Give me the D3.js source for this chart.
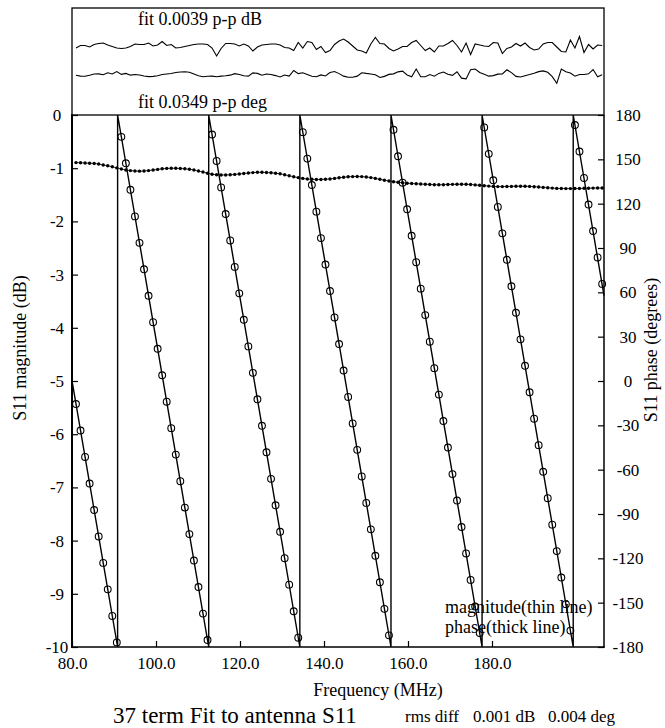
<!DOCTYPE html>
<html>
<head>
<meta charset="utf-8">
<script src="https://cdn.jsdelivr.net/npm/d3@7"></script>
<style>
  body { margin: 0; background: #fff; }
  #s11Fit text { font-family: "Liberation Serif", "Times New Roman", serif; fill: #000; }
</style>
</head>
<body>
<div id="s11Fit"></div>
<script>
// Dados lidos do gráfico //
// grade de frequências das amostras (MHz)
const freqInicio = 80.95
const freqPasso = 1.08

// magnitude medida (dB), um valor por amostra
const magnitude = [
  -0.895,-0.898,-0.902,-0.906,-0.912,-0.921,-0.940,-0.955,-0.974,-0.994,
  -1.015,-1.034,-1.045,-1.053,-1.055,-1.053,-1.045,-1.034,-1.023,-1.011,
  -1.004,-1.002,-1.002,-1.006,-1.011,-1.021,-1.034,-1.053,-1.071,-1.094,
  -1.113,-1.124,-1.128,-1.128,-1.124,-1.117,-1.109,-1.100,-1.090,-1.083,
  -1.077,-1.077,-1.081,-1.086,-1.094,-1.105,-1.124,-1.143,-1.162,-1.177,
  -1.192,-1.203,-1.209,-1.211,-1.211,-1.207,-1.203,-1.192,-1.180,-1.169,
  -1.162,-1.158,-1.156,-1.158,-1.165,-1.177,-1.192,-1.209,-1.226,-1.241,
  -1.254,-1.265,-1.274,-1.282,-1.288,-1.293,-1.297,-1.301,-1.306,-1.310,
  -1.312,-1.310,-1.306,-1.304,-1.301,-1.301,-1.303,-1.306,-1.314,-1.321,
  -1.329,-1.336,-1.342,-1.346,-1.346,-1.344,-1.342,-1.338,-1.338,-1.340,
  -1.342,-1.348,-1.353,-1.361,-1.368,-1.374,-1.380,-1.382,-1.383,-1.383,
  -1.382,-1.382,-1.378,-1.376,-1.374,-1.372,-1.372
]

// fase medida (graus), um valor por amostra
const fase = [
  -15.6,-33.5,-51.4,-69.4,-87.3,-105.2,-123.1,-141.0,-159.0,-176.9,
  165.2,147.3,129.4,111.4,93.5,75.6,57.7,39.8,21.8,3.9,
  -14.0,-31.9,-49.8,-67.8,-85.7,-103.6,-121.5,-139.4,-157.4,-175.3,
  166.8,148.9,131.0,113.0,95.1,77.2,59.3,41.4,23.4,5.5,
  -12.4,-30.3,-48.2,-66.2,-84.1,-102.0,-119.9,-137.8,-155.8,-173.7,
  168.4,150.5,132.6,114.6,96.7,78.8,60.9,43.0,25.0,7.1,
  -10.8,-28.7,-46.6,-64.6,-82.5,-100.4,-118.3,-136.2,-154.2,-172.1,
  170.0,152.1,134.2,116.2,98.3,80.4,62.5,44.6,26.6,8.7,
  -9.2,-27.1,-45.0,-63.0,-80.9,-98.8,-116.7,-134.6,-152.6,-170.5,
  171.6,153.7,135.8,117.8,99.9,82.0,64.1,46.2,28.2,10.3,
  -7.6,-25.5,-43.4,-61.4,-79.3,-97.2,-115.1,-133.0,-151.0,-168.9,
  173.2,155.3,137.4,119.4,101.5,83.6,65.7
]

// vértices da curva ajustada de fase [MHz, graus]
const faseAjuste = [
  [80, 0.2], [90.86, -180], [90.86, 180], [112.55, -180], [112.55, 180],
  [134.25, -180], [134.25, 180], [155.95, -180], [155.95, 180],
  [177.64, -180], [177.64, 180], [199.34, -180], [199.34, 180], [206.67, 57.8]
]

// resíduo do ajuste em magnitude (0.001 dB)
const residuoDb = [
  -0.4,0.1,0.1,-0.2,0.3,0.5,0.6,0.2,-0.1,-0.4,
  -0.5,-0.4,-0.1,0.4,0.3,0.3,0.6,0,0.2,0.9,
  0.1,0.3,-0.4,-0.3,-0.1,0.1,0.3,0.4,0.4,0.3,
  -0.4,-2.0,-0.5,0.5,0.5,0.4,0,0.4,0,-1.0,
  -0.2,0.2,0.3,0.4,0.4,0.2,-0.3,-0.4,-0.9,0.7,
  -0.4,0.9,0.7,-0.7,-0.1,-1.3,-0.9,0.3,1.0,1.4,
  0.8,0,-0.8,-1.0,-1.4,0.4,1.7,0.5,0.4,-0.5,
  -1.0,-0.6,-0.1,-0.1,0.7,1.1,0.1,-0.9,-0.4,-1.2,
  0,0,0.5,1.1,0.1,-1.2,0.6,-1.7,0.4,0.2,
  0,-0.1,0.7,0.6,-1.5,-0.5,-0.2,0.5,0,0.6,
  -0.3,-0.8,-0.6,0.4,0.7,0.7,-0.2,-1.1,-1.2,1.2,
  -0.4,1.9,-1.3,0.3,-0.6,0.2,0.1
]

// resíduo do ajuste em fase (0.001 graus)
const residuoGraus = [
  -1.4,-3,-3.2,-1.4,1,1.2,-0.4,3.2,1,5.4,
  0.2,2,-1.2,0,-1,-2.8,-3.8,-3.4,-2.2,0,
  1,1.8,3.6,4.6,5,4,0.8,-2.2,-4,-3.2,
  -3,-4,-3,-2.2,-1.2,1.6,0,-2.4,-3,3,
  2,-1.2,0.8,0,-2,-4.6,-1,-3,7.4,1.6,
  3.2,0,-3.2,-4,-0.8,-2.6,3.6,5.4,1.6,-3,
  -5,-5,-3,3.2,2,1,-0.6,-5.4,-3.4,0.2,
  1.2,4.8,6,-0.8,-4,10,-4,-4,0,-3,
  2,4.6,0.6,-1.6,5,-6.6,-8,8.6,10,3.6,
  0.4,-3,-2,0.6,1,8.6,3.4,-3.4,-4.6,-2.2,
  0,2.4,5.2,6.6,4,-4,-16,9.8,5,2.6,
  -3,0,0,1.2,9,-4,-0.4
]

// Rótulos dos eixos //
const ticksFreq = [80, 100, 120, 140, 160, 180]
const ticksMag = [0, -1, -2, -3, -4, -5, -6, -7, -8, -9, -10]
const ticksFase = [180, 150, 120, 90, 60, 30, 0, -30, -60, -90, -120, -150, -180]

var s11Fit = {
  // Renderiza o gráfico //
  render: function(node){
    const width = 665
    const height = 728
    const serif = '"Liberation Serif", "Times New Roman", serif'

    const svg = d3.select(node)
      .append("svg")
      .attr("width", width)
      .attr("height", height)
      .attr("viewBox", "0 0 " + width + " " + height)

    const freqs = magnitude.map((d, i) => freqInicio + i * freqPasso)

    const x = d3.scaleLinear().domain([80, 206.67]).range([72, 604])
    const yMag = d3.scaleLinear().domain([-10, 0]).range([647, 115])
    const yFase = d3.scaleLinear().domain([-180, 180]).range([647, 115])
    const yResDb = d3.scaleLinear().domain([-1, 1]).range([51, 41])
    const yResGraus = d3.scaleLinear().domain([-10, 10]).range([80, 69])

    // texto simples com a fonte serifada
    const texto = (px, py, tam, conteudo) => svg.append("text")
      .attr("x", px).attr("y", py)
      .attr("font-family", serif).attr("font-size", tam)
      .text(conteudo)

    // Painel de resíduos //
    svg.append("rect")
      .attr("x", 72).attr("y", 8)
      .attr("width", 532).attr("height", 107)
      .attr("fill", "none").attr("stroke", "#000").attr("stroke-width", 1.3)

    svg.append("path")
      .datum(residuoDb)
      .attr("fill", "none").attr("stroke", "#000").attr("stroke-width", 1.1)
      .attr("d", d3.line().x((d, i) => x(freqs[i])).y(d => yResDb(d)))

    svg.append("path")
      .datum(residuoGraus)
      .attr("fill", "none").attr("stroke", "#000").attr("stroke-width", 1.1)
      .attr("d", d3.line().x((d, i) => x(freqs[i])).y(d => yResGraus(d)))

    texto(138, 25, 18, "fit 0.0039 p-p dB")
    texto(138, 108, 18, "fit 0.0349 p-p deg")

    // Eixos //
    const estiloEixo = g => {
      g.attr("font-size", 17).attr("font-family", serif)
      g.select(".domain").remove()
      g.selectAll(".tick line").attr("stroke", "#000").attr("stroke-width", 1.2)
      g.selectAll("text").attr("font-family", serif)
    }

    svg.append("g")
      .attr("transform", "translate(72,0)")
      .call(d3.axisLeft(yMag).tickValues(ticksMag).tickSize(-6).tickPadding(15).tickFormat(d => String(d)))
      .call(estiloEixo)
      .call(g => g.selectAll("text").attr("text-anchor", "middle"))

    svg.append("g")
      .attr("transform", "translate(604,0)")
      .call(d3.axisRight(yFase).tickValues(ticksFase).tickSize(-6).tickPadding(24).tickFormat(d => String(d)))
      .call(estiloEixo)
      .call(g => g.selectAll("text").attr("text-anchor", "middle"))

    svg.append("g")
      .attr("transform", "translate(0,647)")
      .call(d3.axisBottom(x).tickValues(ticksFreq).tickSize(-6).tickPadding(10).tickFormat(d => d.toFixed(1)))
      .call(estiloEixo)

    // moldura do gráfico principal
    svg.append("line").attr("x1", 72).attr("x2", 72).attr("y1", 114).attr("y2", 648)
      .attr("stroke", "#000").attr("stroke-width", 2)
    svg.append("line").attr("x1", 71).attr("x2", 605).attr("y1", 647).attr("y2", 647)
      .attr("stroke", "#000").attr("stroke-width", 1.5)
    svg.append("line").attr("x1", 604).attr("x2", 604).attr("y1", 115).attr("y2", 647)
      .attr("stroke", "#000").attr("stroke-width", 1.5)

    // Magnitude (linha fina com pontos) //
    svg.append("path")
      .datum(magnitude)
      .attr("fill", "none").attr("stroke", "#000").attr("stroke-width", 0.8)
      .attr("d", d3.line().x((d, i) => x(freqs[i])).y(d => yMag(d)))

    svg.append("g")
      .selectAll("circle")
      .data(magnitude)
      .enter()
      .append("circle")
      .attr("cx", (d, i) => x(freqs[i]))
      .attr("cy", d => yMag(d))
      .attr("r", 1.7)
      .attr("fill", "#000")

    // Fase (linha grossa com círculos) //
    svg.append("path")
      .datum(faseAjuste)
      .attr("fill", "none").attr("stroke", "#000").attr("stroke-width", 1.4)
      .attr("d", d3.line().x(d => x(d[0])).y(d => yFase(d[1])))

    svg.append("g")
      .selectAll("circle")
      .data(fase)
      .enter()
      .append("circle")
      .attr("cx", (d, i) => x(freqs[i]))
      .attr("cy", d => yFase(d))
      .attr("r", 3.4)
      .attr("fill", "none")
      .attr("stroke", "#000")
      .attr("stroke-width", 1.1)

    // Legenda //
    texto(445, 613, 18, "magnitude(thin line)")
    texto(445, 633, 18, "phase(thick line)")

    // Títulos dos eixos //
    svg.append("text")
      .attr("transform", "translate(26,348) rotate(-90)")
      .attr("text-anchor", "middle").attr("font-family", serif).attr("font-size", 18)
      .text("S11 magnitude (dB)")

    svg.append("text")
      .attr("transform", "translate(657,350) rotate(-90)")
      .attr("text-anchor", "middle").attr("font-family", serif).attr("font-size", 18)
      .text("S11 phase (degrees)")

    texto(378, 696, 18, "Frequency (MHz)").attr("text-anchor", "middle")

    texto(113, 723, 23, "37 term Fit to antenna S11")

    texto(405, 722, 17, "rms diff")
    texto(473, 722, 17, "0.001 dB")
    texto(548, 722, 17, "0.004 deg")
  }
}

// Chama o Gráfico //
s11Fit.render("#s11Fit")
</script>
</body>
</html>
